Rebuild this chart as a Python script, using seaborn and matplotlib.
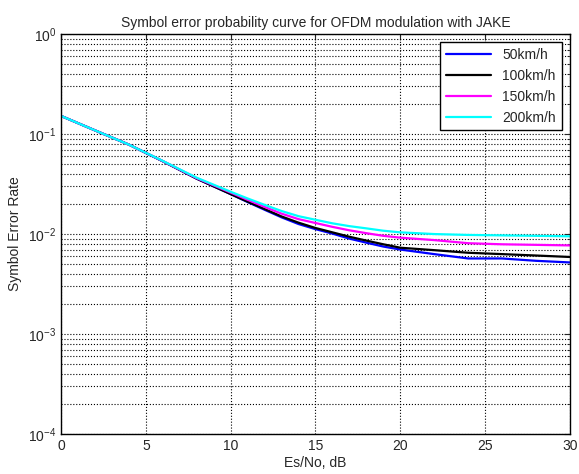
"""Symbol error probability curve, OFDM with JAKE fading"""

import matplotlib
matplotlib.use("Agg")
import matplotlib.pyplot as plt
import numpy as np
import pandas as pd
import seaborn as sns

snr_db = [0, 2, 4, 6, 8, 10, 11, 12, 13, 14, 15, 16, 17, 18, 19, 20,
          22, 24, 26, 28, 30]
ser_50 = [0.152, 0.109, 0.0785, 0.0535, 0.0358, 0.0251, 0.0209, 0.0175, 0.0147,
          0.0126, 0.0112, 0.0101, 0.0090, 0.0082, 0.0075, 0.0070,
          0.0063, 0.0057, 0.0057, 0.0054, 0.0052]
ser_100 = [0.152, 0.109, 0.0785, 0.0535, 0.0358, 0.0251, 0.0211, 0.0178, 0.0150,
           0.0130, 0.0115, 0.0104, 0.0094, 0.0086, 0.0079, 0.0073,
           0.0069, 0.0065, 0.0063, 0.0061, 0.0059]
ser_150 = [0.152, 0.109, 0.0785, 0.0537, 0.0362, 0.0260, 0.0220, 0.0187, 0.0160,
           0.0141, 0.0129, 0.0118, 0.0109, 0.0102, 0.0096, 0.0092,
           0.0087, 0.0081, 0.0079, 0.0078, 0.0077]
ser_200 = [0.152, 0.109, 0.0785, 0.0539, 0.0366, 0.0265, 0.0227, 0.0196, 0.0170,
           0.0151, 0.0139, 0.0128, 0.0120, 0.0114, 0.0108, 0.0104,
           0.0100, 0.0098, 0.0097, 0.0096, 0.0095]
speeds = ["50km/h", "100km/h", "150km/h", "200km/h"]
colors = ["#0000ff", "#000000", "#ff00ff", "#00ffff"]

df = pd.DataFrame({
    "snr": snr_db * 4,
    "ser": ser_50 + ser_100 + ser_150 + ser_200,
    "speed": np.repeat(speeds, len(snr_db)),
})

sns.set_style("white")
plt.rcParams["font.family"] = ["Liberation Sans", "DejaVu Sans"]
plt.rcParams["mathtext.fontset"] = "custom"
plt.rcParams["mathtext.rm"] = "Liberation Sans"
plt.rcParams["mathtext.it"] = "Liberation Sans"
plt.rcParams["mathtext.default"] = "regular"

fig = plt.figure(figsize=(5.79, 4.74), dpi=100)
ax = fig.add_axes([0.1054, 0.0844, 0.879, 0.8436])

sns.lineplot(data=df, x="snr", y="ser", hue="speed", palette=colors,
             hue_order=speeds, linewidth=1.6, ax=ax)

ax.set_yscale("log")
ax.set_xlim(0, 30)
ax.set_ylim(1e-4, 1)
ax.set_xticks([0, 5, 10, 15, 20, 25, 30])
ax.grid(True, which="major", axis="both", color="black", linestyle=":", linewidth=0.8)
ax.grid(True, which="minor", axis="y", color="black", linestyle=":", linewidth=0.8)
ax.tick_params(which="both", direction="in", top=True, right=True, labelsize=10)
ax.tick_params(which="major", length=4)
ax.tick_params(which="minor", length=2)
for s in ax.spines.values():
    s.set_color("black")
    s.set_linewidth(1.0)

ax.set_xlabel("Es/No, dB", fontsize=10, labelpad=2)
ax.set_ylabel("Symbol Error Rate", fontsize=10)
ax.set_title("Symbol error probability curve for OFDM modulation with JAKE", fontsize=10, pad=5)

leg = ax.legend(loc="upper right", fontsize=10, frameon=True, fancybox=False,
                handlelength=3.3, borderaxespad=0.6, labelspacing=0.5)
leg.get_frame().set_edgecolor("black")
leg.get_frame().set_linewidth(1.0)
leg.get_frame().set_alpha(1)

fig.savefig("out.png", dpi=100)
